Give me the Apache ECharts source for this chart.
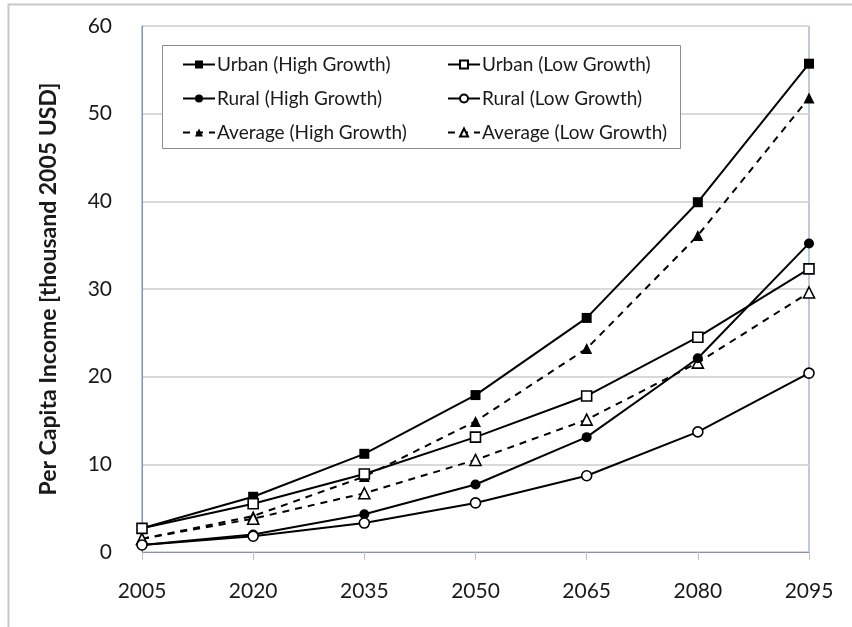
<!DOCTYPE html>
<html>
<head>
<meta charset="utf-8">
<script src="https://cdn.jsdelivr.net/npm/echarts@6/dist/echarts.min.js"></script>
<style>
  html, body { margin: 0; padding: 0; background: #fff; }
  #chart { width: 852px; height: 627px; }
</style>
</head>
<body>
<div id="chart"></div>
<script>
// Years on the horizontal axis
const years = ['2005', '2020', '2035', '2050', '2065', '2080', '2095'];

// Per capita income, thousand 2005 USD
const urbanHigh   = [2.7, 6.3, 11.2, 17.9, 26.7, 39.9, 55.7];
const urbanLow    = [2.7, 5.5, 8.9, 13.1, 17.8, 24.5, 32.3];
const ruralHigh   = [0.8, 2.0, 4.3, 7.7, 13.1, 22.1, 35.2];
const ruralLow    = [0.8, 1.8, 3.3, 5.6, 8.7, 13.7, 20.4];
const averageHigh = [1.5, 4.1, 8.6, 14.9, 23.2, 36.1, 51.8];
const averageLow  = [1.5, 3.8, 6.7, 10.5, 15.1, 21.6, 29.6];

const yTicks = { min: 0, max: 60, interval: 10 };

const FONT = 'Lato, "Open Sans", sans-serif';
const INK = '#1a1a1a';

function makeSeries(name, data, symbol, filled, dashed) {
  return {
    name: name,
    type: 'line',
    data: data,
    symbol: symbol,
    symbolSize: symbol === 'triangle' ? 11 : 10,
    showSymbol: true,
    lineStyle: { color: '#000', width: 2, type: dashed ? [7, 6] : 'solid' },
    itemStyle: {
      color: filled ? '#000' : '#fff',
      borderColor: '#000',
      borderWidth: filled ? 0 : 1.6
    },
    emphasis: { disabled: true },
    animation: false,
    z: dashed ? 3 : 4
  };
}

const series = [
  makeSeries('Urban (High Growth)', urbanHigh, 'rect', true, false),
  makeSeries('Urban (Low Growth)', urbanLow, 'rect', false, false),
  makeSeries('Rural (High Growth)', ruralHigh, 'circle', true, false),
  makeSeries('Rural (Low Growth)', ruralLow, 'circle', false, false),
  makeSeries('Average (High Growth)', averageHigh, 'triangle', true, true),
  makeSeries('Average (Low Growth)', averageLow, 'triangle', false, true)
];

const legendCommon = {
  orient: 'vertical',
  itemWidth: 32,
  itemHeight: 10,
  itemGap: 15,
  textStyle: { fontFamily: FONT, fontSize: 19, color: INK, padding: [0, 0, 0, -3] },
  selectedMode: false
};

const chart = echarts.init(document.getElementById('chart'), null, { renderer: 'canvas' });
chart.setOption({
  backgroundColor: '#fff',
  animation: false,
  graphic: [
    {
      type: 'rect',
      shape: { x: 8.5, y: 4.5, width: 900, height: 700 },
      style: { fill: 'none', stroke: '#c8c8c8', lineWidth: 2 },
      silent: true,
      z: -10
    },
    {
      type: 'rect',
      shape: { x: 162.5, y: 45.5, width: 518, height: 103 },
      style: { fill: '#fff', stroke: '#8c8c8c', lineWidth: 1 },
      silent: true,
      z: 50
    }
  ],
  legend: [
    Object.assign({}, legendCommon, {
      left: 177, top: 50, z: 60,
      data: ['Urban (High Growth)', 'Rural (High Growth)', 'Average (High Growth)']
    }),
    Object.assign({}, legendCommon, {
      left: 442, top: 50, z: 60,
      data: ['Urban (Low Growth)', 'Rural (Low Growth)', 'Average (Low Growth)']
    })
  ],
  grid: {
    left: 142, right: 43, top: 26, bottom: 75,
    show: true,
    borderColor: '#7f93b8',
    borderWidth: 1,
    containLabel: false
  },
  xAxis: {
    type: 'category',
    data: years,
    boundaryGap: false,
    axisLine: { show: true, lineStyle: { color: '#7f93b8', width: 1 } },
    axisTick: { show: true, alignWithLabel: true, length: 8, lineStyle: { color: '#c0c0c0' } },
    axisLabel: { fontFamily: FONT, fontSize: 21, color: INK, margin: 29 },
    splitLine: { show: false }
  },
  yAxis: {
    type: 'value',
    min: yTicks.min,
    max: yTicks.max,
    interval: yTicks.interval,
    name: 'Per Capita Income [thousand 2005 USD]',
    nameLocation: 'middle',
    nameGap: 82,
    nameTextStyle: { fontFamily: FONT, fontSize: 23, fontWeight: 'bold', color: INK },
    axisLine: { show: true, lineStyle: { color: '#7f93b8', width: 1 } },
    axisTick: { show: false },
    axisLabel: { fontFamily: FONT, fontSize: 21, color: INK, margin: 30 },
    splitLine: { show: true, lineStyle: { color: '#d9d9d9', width: 2 } }
  },
  series: series
});
</script>
</body>
</html>
